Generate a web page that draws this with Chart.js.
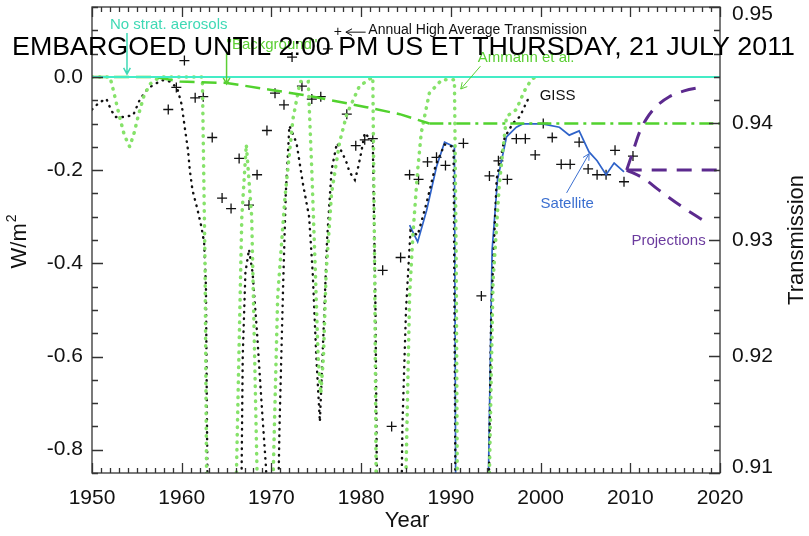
<!DOCTYPE html>
<html>
<head>
<meta charset="utf-8">
<script src="https://cdn.jsdelivr.net/npm/chart.js@4.4.1/dist/chart.umd.min.js"></script>
<style>
  html, body { margin: 0; padding: 0; background: #fff; }
  #wrap { width: 809px; height: 536px; }
</style>
</head>
<body>
<div id="wrap"><canvas id="forcingChart" width="809" height="536"></canvas></div>
<script>
// values (x = year, y = W/m^2 unless noted)
const yearTicks = [1950, 1960, 1970, 1980, 1990, 2000, 2010, 2020];
const forcingTicks = [-0.8, -0.6, -0.4, -0.2, 0.0];
const transTicks = [0.91, 0.92, 0.93, 0.94, 0.95];

const noAerosolYears = [1950, 2020];
const noAerosolValues = [0, 0];

const backgroundYears = [1950, 1957, 1959.8, 1965, 1970, 1974, 1980.6, 1984.3, 1987.6, 2020];
const backgroundValues = [0, 0, -0.01, -0.013, -0.028, -0.04, -0.065, -0.08, -0.1, -0.1];

const ammannYears = [1950.0, 1952.0, 1952.4, 1953.0, 1953.6, 1954.2, 1954.7, 1955.2, 1955.8, 1956.5, 1957.2, 1958.0, 1962.3, 1962.6, 1962.9,
  1965.8, 1966.1, 1966.7, 1967.2, 1967.8, 1968.4, 1968.7,
  1969.9, 1970.2, 1970.7, 1971.5, 1972.4, 1973.2, 1974.1, 1974.5, 1974.9, 1975.2, 1975.5, 1975.8, 1976.1, 1976.7, 1977.6, 1978.4, 1979.8, 1980.9, 1981.3, 1981.5, 1981.8,
  1984.7, 1985.0, 1985.4, 1985.8, 1986.3, 1986.7, 1987.6, 1989.0, 1990.4, 1990.6, 1990.8,
  1994.0, 1994.3, 1994.7, 1995.4, 1996.2, 1997.3, 1998.2, 1999.0, 1999.5];
const ammannValues = [0, 0, -0.03, -0.08, -0.125, -0.15, -0.12, -0.08, -0.04, -0.015, -0.005, 0, 0, -0.4, -1.2,
  -1.2, -0.85, -0.3, -0.145, -0.3, -0.85, -1.2,
  -1.2, -0.85, -0.47, -0.26, -0.09, -0.01, -0.01, -0.2, -0.42, -0.6, -0.68, -0.6, -0.42, -0.25, -0.14, -0.08, -0.02, -0.005, 0, -0.4, -1.2,
  -1.2, -0.85, -0.47, -0.33, -0.2, -0.12, -0.035, -0.006, -0.006, -0.4, -1.2,
  -1.2, -0.85, -0.44, -0.23, -0.085, -0.07, -0.03, -0.005, 0];

const gissYears = [1950.0, 1950.8, 1951.6, 1952.1, 1952.6, 1953.6, 1954.6, 1955.3, 1956.0, 1956.8, 1957.9, 1958.7, 1959.5, 1960.0, 1960.3, 1960.7, 1960.9, 1961.2, 1961.7, 1962.2, 1962.5, 1962.7, 1963.0,
  1966.5, 1966.8, 1967.1, 1967.5, 1967.9, 1968.4, 1968.9, 1969.4, 1969.9,
  1970.5, 1970.9, 1971.3, 1971.6, 1972.0, 1972.8, 1973.5, 1974.2, 1974.6, 1975.0, 1975.4, 1975.8, 1976.2, 1976.7, 1977.3, 1977.9, 1978.4, 1978.7, 1979.3, 1979.6, 1980.0, 1980.4, 1981.3, 1981.6, 1981.9,
  1984.3, 1984.6, 1985.0, 1985.5, 1986.3, 1987.3, 1988.3, 1989.3, 1990.3, 1990.6,
  1994.0, 1994.5, 1995.1, 1996.0, 1996.9, 1997.7, 1998.3, 1998.8];
const gissValues = [-0.07, -0.055, -0.047, -0.07, -0.086, -0.086, -0.082, -0.05, -0.03, -0.017, -0.007, -0.01, -0.024, -0.06, -0.103, -0.157, -0.2, -0.243, -0.28, -0.322, -0.356, -0.45, -1.2,
  -1.2, -0.6, -0.42, -0.37, -0.42, -0.55, -0.7, -0.84, -1.2,
  -1.2, -0.75, -0.45, -0.25, -0.105, -0.142, -0.228, -0.3, -0.42, -0.6, -0.74, -0.55, -0.35, -0.2, -0.142, -0.163, -0.185, -0.204, -0.221, -0.2, -0.163, -0.12, -0.14, -0.5, -1.2,
  -1.2, -0.75, -0.5, -0.33, -0.34, -0.27, -0.19, -0.145, -0.15, -1.2,
  -1.2, -0.5, -0.22, -0.13, -0.1, -0.085, -0.06, -0.04];

const satelliteYears = [1985.4, 1986.3, 1987.3, 1988.4, 1989.3, 1990.4, 1990.6, 1993.9, 1994.6, 1995.2, 1996.2, 1997.3, 1998.0, 2000.2, 2002.1, 2003.2, 2004.3, 2005.4, 2006.3, 2007.3, 2008.2, 2009.3];
const satelliteValues = [-0.318, -0.354, -0.286, -0.193, -0.14, -0.15, -1.2, -1.2, -0.371, -0.221, -0.129, -0.108, -0.101, -0.101, -0.108, -0.125, -0.116, -0.161, -0.18, -0.21, -0.185, -0.204];

// annual high average transmission (right axis)
const transYears = [1958.5, 1959.4, 1960.3, 1961.5, 1962.4, 1963.4, 1964.5, 1965.5, 1966.4, 1967.5, 1968.4, 1969.5, 1970.4, 1971.4, 1972.3, 1973.4, 1974.5, 1975.5, 1976.3,
  1978.4, 1979.4, 1980.4, 1981.3, 1982.4, 1983.4, 1984.4, 1985.4, 1986.4, 1987.4, 1988.4, 1989.4, 1991.4, 1993.4, 1994.3, 1995.3, 1996.3, 1997.3, 1998.3, 1999.4,
  2000.3, 2001.3, 2002.3, 2003.3, 2004.3, 2005.3, 2006.3, 2007.3, 2008.3, 2009.3, 2010.3];
const transValues = [0.9412, 0.9431, 0.9454, 0.9422, 0.9423, 0.9388, 0.9336, 0.9327, 0.9370, 0.9330, 0.9356, 0.9394, 0.9426, 0.9416, 0.9457, 0.9432, 0.9421, 0.9423, 0.9464,
  0.9408, 0.9381, 0.9386, 0.9387, 0.9274, 0.9140, 0.9285, 0.9356, 0.9352, 0.9367, 0.9371, 0.9364, 0.9383, 0.9252, 0.9355, 0.9368, 0.9352, 0.9387, 0.9387, 0.9373,
  0.9400, 0.9388, 0.9365, 0.9365, 0.9384, 0.9361, 0.9356, 0.9356, 0.9377, 0.9350, 0.9372];

const projUpYears = [2009.6, 2010.3, 2011.0, 2011.8, 2012.8, 2014.3, 2016.0, 2018.0];
const projUpValues = [-0.2, -0.16, -0.12, -0.09, -0.065, -0.043, -0.03, -0.022];
const projFlatYears = [2009.6, 2020];
const projFlatValues = [-0.2, -0.2];
const projDownYears = [2009.6, 2011.5, 2013.2, 2015.8, 2018.4];
const projDownValues = [-0.2, -0.218, -0.243, -0.279, -0.311];

const FONT = "'Liberation Sans', Arial, Helvetica, sans-serif";
const toXY = (xs, ys) => xs.map((v, i) => ({ x: v, y: ys[i] }));

function arrow(ctx, x0, y0, x1, y1, color, w) {
    const ang = Math.atan2(y1 - y0, x1 - x0), h = 7;
    ctx.strokeStyle = color;
    ctx.lineWidth = w;
    ctx.beginPath();
    ctx.moveTo(x0, y0);
    ctx.lineTo(x1, y1);
    ctx.moveTo(x1 - h * Math.cos(ang - 0.5), y1 - h * Math.sin(ang - 0.5));
    ctx.lineTo(x1, y1);
    ctx.lineTo(x1 - h * Math.cos(ang + 0.5), y1 - h * Math.sin(ang + 0.5));
    ctx.stroke();
}

// no extra room around the scales: the frame is placed by the fixed widths
function noPad(s) {
    s.paddingTop = 0; s.paddingBottom = 0; s.paddingLeft = 0; s.paddingRight = 0;
}

// frame, inward ticks, labels and the notes written on the plot
const annotate = {
    id: 'annotate',
    afterDraw(chart) {
        const { ctx, chartArea: a, scales } = chart;
        const X = v => scales.x.getPixelForValue(v);
        const Y = v => scales.y.getPixelForValue(v);
        const T = v => scales.y1.getPixelForValue(v);
        ctx.save();

        ctx.strokeStyle = '#333';
        ctx.lineWidth = 1.3;
        ctx.strokeRect(a.left, a.top, a.right - a.left, a.bottom - a.top);
        ctx.beginPath();
        for (let yr = 1950; yr <= 2020; yr++) {
            const px = Math.round(X(yr)) + 0.5;
            const len = yr % 10 === 0 ? 10 : 5;
            ctx.moveTo(px, a.bottom); ctx.lineTo(px, a.bottom - len);
            ctx.moveTo(px, a.top); ctx.lineTo(px, a.top + len);
        }
        for (let k = -17; k <= 3; k++) {
            const py = Math.round(Y(k * 0.05)) + 0.5;
            const len = k % 4 === 0 ? 11 : 6;
            ctx.moveTo(a.left, py); ctx.lineTo(a.left + len, py);
        }
        for (let k = 0; k <= 20; k++) {
            const py = Math.round(T(0.91 + k * 0.002)) + 0.5;
            const len = k % 5 === 0 ? 11 : 6;
            ctx.moveTo(a.right, py); ctx.lineTo(a.right - len, py);
        }
        ctx.stroke();

        // right axis labels (kept inside the frame at the ends)
        ctx.fillStyle = '#111';
        ctx.font = '21px ' + FONT;
        ctx.textAlign = 'left';
        ctx.textBaseline = 'middle';
        transTicks.forEach(v => {
            const py = Math.min(Math.max(T(v), a.top + 7), a.bottom - 6);
            ctx.fillText(v.toFixed(2), a.right + 12, py);
        });

        // axis titles
        ctx.font = '22px ' + FONT;
        ctx.textAlign = 'center';
        ctx.textBaseline = 'middle';
        ctx.fillText('Year', (a.left + a.right) / 2 + 1, 521);
        ctx.save();
        ctx.translate(797, (a.top + a.bottom) / 2);
        ctx.rotate(-Math.PI / 2);
        ctx.fillText('Transmission', 0, 0);
        ctx.restore();
        ctx.save();
        ctx.translate(20, (a.top + a.bottom) / 2 + 2);
        ctx.rotate(-Math.PI / 2);
        const wm = ctx.measureText('W/m').width;
        ctx.font = '14px ' + FONT;
        const w2 = ctx.measureText('2').width;
        ctx.textAlign = 'left';
        ctx.fillText('2', -(wm + w2) / 2 + wm + 1, -8);
        ctx.font = '22px ' + FONT;
        ctx.fillText('W/m', -(wm + w2) / 2, 0);
        ctx.restore();

        // notes
        ctx.textAlign = 'left';
        ctx.textBaseline = 'middle';
        ctx.font = '15px ' + FONT;
        ctx.fillStyle = '#3fd9b5';
        ctx.fillText('No strat. aerosols', X(1952.0), Y(0.111));
        arrow(ctx, X(1953.9), Y(0.094), X(1953.9), Y(0.006), '#3fd9b5', 1.5);

        ctx.fillStyle = '#5ccf35';
        ctx.fillText('"Background"', X(1965.0), Y(0.068));
        arrow(ctx, X(1965.0), Y(0.051), X(1965.0), Y(-0.015), '#5ccf35', 1.5);
        ctx.fillText('Ammann et al.', X(1993.0), Y(0.041));
        arrow(ctx, X(1993.3), Y(0.023), X(1991.1), Y(-0.026), '#5ccf35', 1);

        ctx.fillStyle = '#111';
        ctx.fillText('GISS', X(1999.9), Y(-0.041));
        ctx.font = '14px ' + FONT;
        ctx.fillText('+', X(1977.4) - 4, Y(0.096));
        arrow(ctx, X(1980.5), Y(0.096), X(1978.3), Y(0.096), '#111', 1);
        ctx.fillText('Annual High Average Transmission', X(1980.8), Y(0.1));

        ctx.font = '15px ' + FONT;
        ctx.fillStyle = '#3b6fd0';
        ctx.fillText('Satellite', X(2000.0), Y(-0.273));
        arrow(ctx, X(2002.9), Y(-0.249), X(2005.4), Y(-0.165), '#3b6fd0', 1);

        ctx.fillStyle = '#6b3b9e';
        ctx.textAlign = 'right';
        ctx.fillText('Projections', X(2018.4), Y(-0.352));

        // embargo stamp across the top
        ctx.fillStyle = '#000';
        ctx.font = '26px ' + FONT;
        ctx.textAlign = 'left';
        const stamp = 'EMBARGOED UNTIL 2:00 PM US ET THURSDAY, 21 JULY 2011';
        const sw = ctx.measureText(stamp).width;
        ctx.save();
        ctx.translate(12, 48);
        ctx.scale(783 / sw, 1);
        ctx.fillText(stamp, 0, 0);
        ctx.restore();

        ctx.restore();
    }
};

const ctx = document.getElementById('forcingChart').getContext('2d');

const forcingChart = new Chart(ctx, {
    type: 'line',
    data: {
        datasets: [
            { label: 'No strat. aerosols', data: toXY(noAerosolYears, noAerosolValues), borderColor: '#44ecc6', borderWidth: 2, pointRadius: 0 },
            {
                label: 'Background', data: toXY(backgroundYears, backgroundValues), borderColor: '#52d22e', borderWidth: 2.5, pointRadius: 0,
                segment: { borderDash: c => c.p0.parsed.x >= 1987.5 ? [14, 5, 3, 5] : [15, 7] }
            },
            { label: 'Ammann et al.', data: toXY(ammannYears, ammannValues), borderColor: '#86e26a', borderWidth: 3.5, borderDash: [0.5, 7], borderCapStyle: 'round', pointRadius: 0 },
            { label: 'GISS', data: toXY(gissYears, gissValues), borderColor: '#111', borderWidth: 2.4, borderDash: [0.5, 6], borderCapStyle: 'round', pointRadius: 0 },
            { label: 'Satellite', data: toXY(satelliteYears, satelliteValues), borderColor: '#2f63c9', borderWidth: 1.7, pointRadius: 0 },
            { label: 'Projection high', data: toXY(projUpYears, projUpValues), borderColor: '#5c2a8e', borderWidth: 3, borderDash: [15, 10], pointRadius: 0, cubicInterpolationMode: 'monotone' },
            { label: 'Projection flat', data: toXY(projFlatYears, projFlatValues), borderColor: '#5c2a8e', borderWidth: 3, borderDash: [15, 10], pointRadius: 0 },
            { label: 'Projection low', data: toXY(projDownYears, projDownValues), borderColor: '#5c2a8e', borderWidth: 3, borderDash: [15, 10], pointRadius: 0, cubicInterpolationMode: 'monotone' },
            {
                label: 'Annual High Average Transmission', data: toXY(transYears, transValues), yAxisID: 'y1', showLine: false,
                pointStyle: 'cross', pointRadius: 5, borderColor: '#111', backgroundColor: '#111', borderWidth: 1.3
            }
        ]
    },
    options: {
        responsive: false,
        animation: false,
        devicePixelRatio: 1,
        layout: { padding: { top: 7, left: 0, right: 0, bottom: 0 } },
        plugins: { legend: { display: false }, tooltip: { enabled: false } },
        scales: {
            x: {
                type: 'linear', min: 1950, max: 2020,
                grid: { display: false, drawTicks: false },
                border: { display: false },
                afterBuildTicks: s => { s.ticks = yearTicks.map(v => ({ value: v })); },
                ticks: { color: '#111', font: { family: FONT, size: 21 }, padding: 13, maxRotation: 0, autoSkip: false, callback: v => String(v) },
                afterFit: s => { s.height = 63; noPad(s); }
            },
            y: {
                position: 'left', min: -0.85, max: 0.15,
                grid: { display: false, drawTicks: false },
                border: { display: false },
                afterBuildTicks: s => { s.ticks = forcingTicks.map(v => ({ value: v })); },
                ticks: { color: '#111', font: { family: FONT, size: 21 }, padding: 9, callback: v => v.toFixed(1) },
                afterFit: s => { s.width = 92; noPad(s); }
            },
            y1: {
                position: 'right', min: 0.91, max: 0.95,
                grid: { display: false, drawTicks: false },
                border: { display: false },
                ticks: { display: false },
                afterFit: s => { s.width = 89; noPad(s); }
            }
        }
    },
    plugins: [annotate]
});
</script>
</body>
</html>
